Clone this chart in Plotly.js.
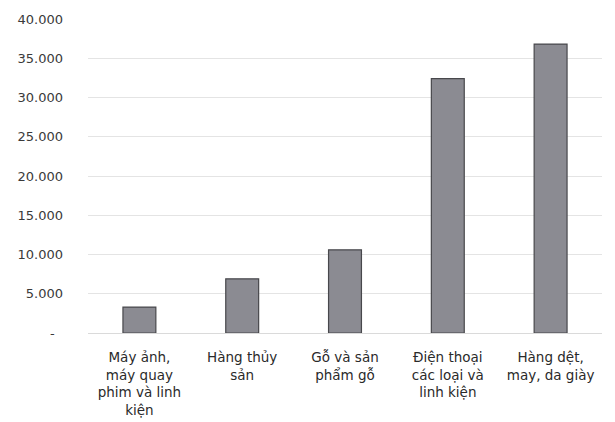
<!DOCTYPE html>
<html>
<head>
<meta charset="utf-8">
<script src="https://cdn.plot.ly/plotly-3.0.1.min.js"></script>
<style>html,body{margin:0;padding:0;background:#fff;}#chart{width:615px;height:422px;}</style>
</head>
<body>
<div id="chart"></div>
<script>
var categories = [
  "Máy ảnh,<br>máy quay<br>phim và linh<br>kiện",
  "Hàng thủy<br>sản",
  "Gỗ và sản<br>phẩm gỗ",
  "Điện thoại<br>các loại và<br>linh kiện",
  "Hàng dệt,<br>may, da giày"
];
var values = [3300, 6900, 10600, 32400, 36800];
var tickValues = [0, 5000, 10000, 15000, 20000, 25000, 30000, 35000, 40000];
var tickLabels = ["-\u00a0\u00a0", "5.000", "10.000", "15.000", "20.000", "25.000", "30.000", "35.000", "40.000"];

var trace = {
  type: 'bar',
  x: categories,
  y: values,
  marker: {color: '#8b8b92', line: {color: '#48484c', width: 1.2}},
  hoverinfo: 'none'
};

var layout = {
  width: 615, height: 422,
  margin: {l: 88, r: 13, t: 19, b: 89},
  paper_bgcolor: '#ffffff',
  plot_bgcolor: '#ffffff',
  bargap: 0.68,
  showlegend: false,
  font: {family: 'DejaVu Sans, Verdana, sans-serif', color: '#333333', size: 13},
  xaxis: {
    type: 'category',
    showgrid: false,
    showline: true,
    linecolor: '#dadada',
    linewidth: 1,
    ticks: '',
    tickangle: 0,
    ticklabelstandoff: 12,
    tickfont: {size: 13.5, color: '#2a2a2a'}
  },
  yaxis: {
    range: [0, 40000],
    tickvals: tickValues,
    ticktext: tickLabels,
    showgrid: true,
    gridcolor: '#e4e4e4',
    gridwidth: 1,
    zeroline: false,
    showline: false,
    ticks: '',
    ticklabelstandoff: 24,
    tickfont: {size: 13, color: '#3a3a3a'}
  }
};

Plotly.newPlot('chart', [trace], layout, {staticPlot: true, displayModeBar: false});
</script>
</body>
</html>
